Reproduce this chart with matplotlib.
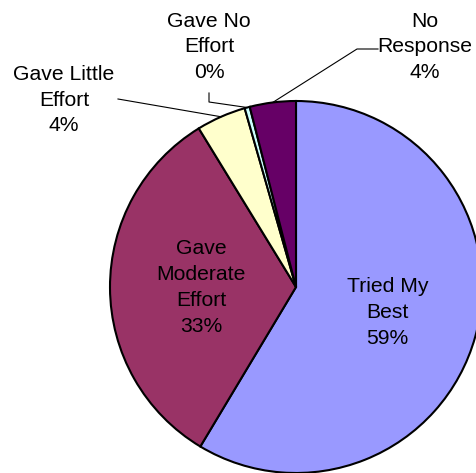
import numpy as np
import matplotlib
matplotlib.use("Agg")
import matplotlib.pyplot as plt

# survey answers (percent of respondents)
categories = ['Tried My Best', 'Gave Moderate Effort', 'Gave Little Effort',
              'Gave No Effort', 'No Response']
values = [58.6, 32.65, 4.3, 0.45, 4.0]
label_lines = ['Tried My\nBest', 'Gave\nModerate\nEffort', 'Gave Little\nEffort',
               'Gave No\nEffort', 'No\nResponse']
colors = ['#9999FF', '#993366', '#FFFFCC', '#CCFFFF', '#660066']

W, H = 477, 473
plt.rcParams['font.family'] = ['Liberation Sans', 'DejaVu Sans']

fig = plt.figure(figsize=(W / 100, H / 100), dpi=100)
ax = fig.add_axes([0, 0, 1, 1])

cx, cy, r = 296, H - 287, 186  # pie centre / radius in pixel units (y up)
wedges, _ = ax.pie(values, colors=colors, startangle=90, counterclock=False,
                   center=(cx, cy), radius=r, frame=True,
                   wedgeprops=dict(edgecolor='black', linewidth=1.5))

ax.set_xlim(0, W)
ax.set_ylim(0, H)
ax.set_aspect('auto')
ax.axis('off')

fs = 15.2
ls = 1.45


def mid_point(w, frac):
    a = np.deg2rad((w.theta1 + w.theta2) / 2)
    return cx + frac * r * np.cos(a), cy + frac * r * np.sin(a)


texts = [f"{lab}\n{round(v)}%" for lab, v in zip(label_lines, values)]

# labels inside the two big slices
for i in (0, 1):
    x, y = mid_point(wedges[i], 0.51)
    ax.text(x, y, texts[i], ha='center', va='center', fontsize=fs,
            linespacing=ls, color='black')

# outside labels with leader lines (positions in image pixels, y down)
outside = {
    2: dict(pos=(64, 100), path=[(118, 99)]),
    3: dict(pos=(209, 47), path=[(209, 93), (209, 102)]),
    4: dict(pos=(425, 47), path=[(378, 49), (357, 49)]),
}
for i, o in outside.items():
    ax.text(o['pos'][0], H - o['pos'][1], texts[i], ha='center', va='center',
            fontsize=fs, linespacing=ls, color='black')
    ex, ey = mid_point(wedges[i], 1.0)
    xs = [p[0] for p in o['path']] + [ex]
    ys = [H - p[1] for p in o['path']] + [ey]
    ax.plot(xs, ys, color='black', linewidth=0.8)

fig.savefig('out.png', dpi=100)
